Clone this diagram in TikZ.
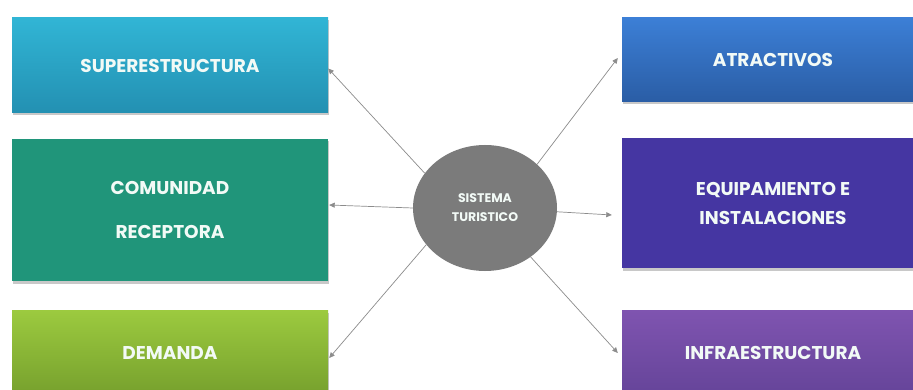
\documentclass[tikz,border=0pt]{standalone}
\usepackage{fontspec}
\setmainfont{Poppins}
\usetikzlibrary{shapes.geometric,shadows,arrows.meta}
\definecolor{supT}{HTML}{31B5D5}
\definecolor{supB}{HTML}{2390B2}
\definecolor{comC}{HTML}{20957A}
\definecolor{demT}{HTML}{9CCA3F}
\definecolor{demB}{HTML}{76A02D}
\definecolor{atrT}{HTML}{3C7FD6}
\definecolor{atrB}{HTML}{2A5DA5}
\definecolor{eqC}{HTML}{4536A2}
\definecolor{infT}{HTML}{7F54B0}
\definecolor{infB}{HTML}{654499}
\definecolor{circC}{HTML}{7B7B7B}
\definecolor{lineC}{HTML}{8C8C8C}
\definecolor{txtC}{HTML}{F2FAF6}
\begin{document}
\begin{tikzpicture}[x=1pt,y=-1pt,
  box/.style={rectangle, inner sep=0pt, text=txtC, align=center,
    font=\fontsize{18.5}{22}\selectfont\bfseries,
    drop shadow={shadow xshift=1pt, shadow yshift=-2.5pt, opacity=0.3, fill=black!70}},
  arr/.style={draw=lineC, line width=0.7pt, -{Triangle[width=5pt,length=5.5pt]}}]
\useasboundingbox[fill=white] (0,0) rectangle (913,390);
% left column
\node[box, minimum width=316pt, minimum height=95pt, top color=supT, bottom color=supB] (sup) at (170,65.5) {SUPERESTRUCTURA};
\node[box, minimum width=316pt, minimum height=142pt, fill=comC, font=\fontsize{18.5}{44}\selectfont\bfseries] (com) at (170,210) {COMUNIDAD\\RECEPTORA};
\node[box, minimum width=316pt, minimum height=86pt, top color=demT, bottom color=demB] (dem) at (170,353) {DEMANDA};
% right column
\node[box, minimum width=302pt, minimum height=84pt, top color=atrT, bottom color=atrB] (atr) at (773,60) {ATRACTIVOS};
\node[box, minimum width=302pt, minimum height=130pt, fill=eqC, font=\fontsize{18.5}{29}\selectfont\bfseries] (eq) at (773,203) {EQUIPAMIENTO E\\INSTALACIONES};
\node[box, minimum width=302pt, minimum height=86pt, top color=infT, bottom color=infB] (inf) at (773,353) {INFRAESTRUCTURA};
% centre
\node[ellipse, fill=circC, minimum width=144pt, minimum height=126pt, inner sep=0pt,
  text=txtC, align=center, font=\fontsize{12.5}{19}\selectfont\bfseries] (c) at (485,208) {SISTEMA\\TURISTICO};
% connectors
\draw[arr] (c.150) -- ([yshift=-3pt]sup.east);
\draw[arr] (c.180) -- ([yshift=5pt,xshift=1pt]com.east);
\draw[arr] (c.212) -- ([yshift=-5pt,xshift=1pt]dem.east);
\draw[arr] (c.40) -- ([xshift=-4pt,yshift=2pt]atr.west);
\draw[arr] (c.-3) -- ([xshift=-10pt,yshift=-12pt]eq.west);
\draw[arr] (c.-47) -- ([xshift=-4pt]inf.west);
\end{tikzpicture}
\end{document}
